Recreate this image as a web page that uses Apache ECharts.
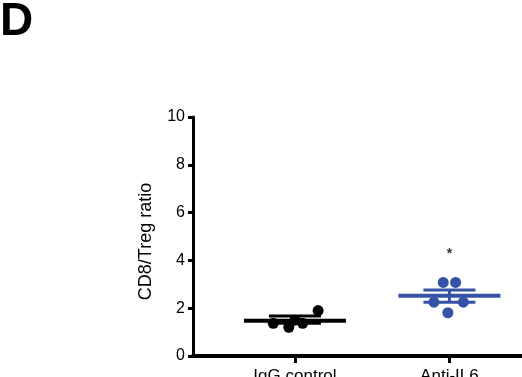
<!DOCTYPE html>
<html>
<head>
<meta charset="utf-8">
<script src="https://cdn.jsdelivr.net/npm/echarts@6/dist/echarts.min.js"></script>
</head>
<body style="margin:0">
<div id="main" style="width:522px;height:377px;"></div>
<script type="text/javascript">
// groups and their x slots
var groups = ['IgG control', 'Anti-IL6'];
var groupPos = [1, 2];
// individual ratios per group
var iggValues = [1.37, 1.20, 1.37, 1.90, 1.50];
var il6Values = [3.08, 3.08, 2.25, 2.25, 1.81];
// jitter of dots around the group slot
var iggJitter = [-0.14, -0.04, 0.05, 0.15, 0.0];
var il6Jitter = [-0.04, 0.04, -0.10, 0.09, -0.01];
// mean and SEM bounds
var means = [1.48, 2.52];
var semUp = [1.67, 2.76];
var semDown = [1.37, 2.25];
var yTicks = [0, 2, 4, 6, 8, 10];
var starValue = 4.25;

var blue = '#3452a6';
var colors = ['#000000', blue];

function dots(vals, jit, g) {
  return vals.map(function (v, i) { return [groupPos[g] + jit[i], v]; });
}

var chart = echarts.init(document.getElementById('main'));

var option = {
  animation: false,
  title: {
    text: 'D', left: -5, top: -6,
    textStyle: { fontSize: 46, fontWeight: 'bold', color: '#000', fontFamily: 'Liberation Sans' }
  },
  grid: { left: 193, right: 0, top: 117, bottom: 21, outerBoundsMode: 'none' },
  xAxis: {
    type: 'value', min: 0.34, max: 2.47,
    splitLine: { show: false },
    axisLine: { lineStyle: { color: '#000', width: 4 } },
    axisTick: { customValues: groupPos, length: 7, lineStyle: { color: '#000', width: 3 } },
    axisLabel: {
      customValues: groupPos, margin: 12, fontSize: 17, color: '#000', fontFamily: 'Liberation Sans',
      formatter: function (v) { return groups[groupPos.indexOf(v)] || ''; }
    }
  },
  yAxis: {
    type: 'value', min: 0, max: 10, interval: 2,
    name: 'CD8/Treg ratio', nameLocation: 'middle', nameGap: 38,
    nameTextStyle: { fontSize: 18, color: '#000', fontFamily: 'Liberation Sans', padding: [0, 10, 0, 0] },
    splitLine: { show: false },
    axisLine: { show: true, lineStyle: { color: '#000', width: 3 } },
    axisTick: { show: true, length: 5, lineStyle: { color: '#000', width: 3 } },
    axisLabel: {
      fontSize: 16, color: '#000', margin: 8, fontFamily: 'Liberation Sans',
      formatter: function (v) { return yTicks.indexOf(v) >= 0 ? String(v) : ''; }
    }
  },
  series: [
    {
      type: 'scatter', symbolSize: 11, z: 3,
      itemStyle: { color: colors[0], opacity: 1 },
      data: dots(iggValues, iggJitter, 0)
    },
    {
      type: 'scatter', symbolSize: 11, z: 3,
      itemStyle: { color: colors[1], opacity: 1 },
      data: dots(il6Values, il6Jitter, 1)
    },
    {
      type: 'custom', z: 4,
      data: groupPos.map(function (p, i) { return [p, means[i], semUp[i], semDown[i], i]; }),
      renderItem: function (params, api) {
        var x = api.value(0);
        var m = api.coord([x, api.value(1)]);
        var u = api.coord([x, api.value(2)]);
        var d = api.coord([x, api.value(3)]);
        var c = colors[api.value(4)];
        var st = { stroke: c, lineWidth: 4 };
        var st2 = { stroke: c, lineWidth: 3 };
        return {
          type: 'group',
          children: [
            { type: 'line', shape: { x1: m[0] - 51, y1: m[1], x2: m[0] + 51, y2: m[1] }, style: st },
            { type: 'line', shape: { x1: u[0] - 26, y1: u[1], x2: u[0] + 26, y2: u[1] }, style: st2 },
            { type: 'line', shape: { x1: d[0] - 26, y1: d[1], x2: d[0] + 26, y2: d[1] }, style: st2 },
            { type: 'line', shape: { x1: u[0], y1: u[1], x2: d[0], y2: d[1] }, style: st2 }
          ]
        };
      }
    },
    {
      type: 'scatter', symbolSize: 0,
      label: { show: true, position: 'inside', formatter: '*', fontSize: 14, fontWeight: 'bold', color: '#000' },
      data: [[groupPos[1], starValue]]
    }
  ]
};
chart.setOption(option);
</script>
</body>
</html>
